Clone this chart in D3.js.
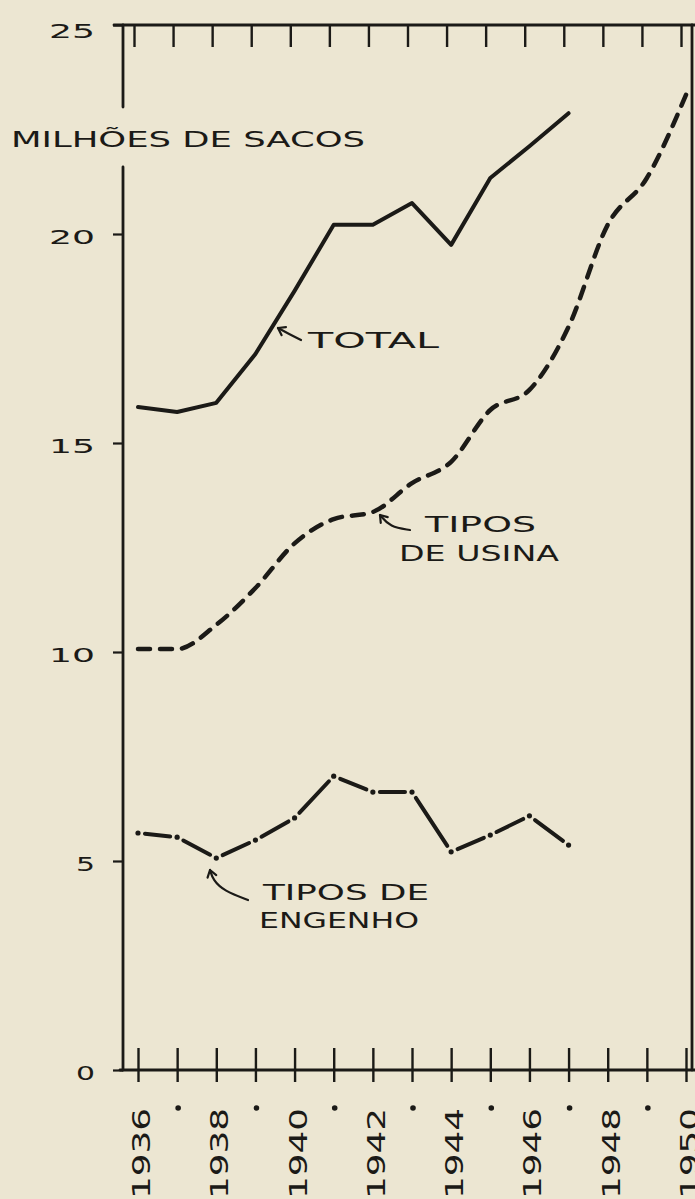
<!DOCTYPE html>
<html>
<head>
<meta charset="utf-8">
<script src="https://cdn.jsdelivr.net/npm/d3@7/dist/d3.min.js"></script>
<style>
  html, body { margin: 0; padding: 0; background: #ece6d2; }
  svg { display: block; }
</style>
</head>
<body>
<div id="chart"></div>
<script>
// values (milhões de sacos)
const years = [1936, 1937, 1938, 1939, 1940, 1941, 1942, 1943, 1944, 1945, 1946, 1947, 1948, 1949, 1950];
const totalValues = [15.86, 15.74, 15.96, 17.13, 18.64, 20.22, 20.22, 20.74, 19.74, 21.34, 22.1, 22.89];
const usinaValues = [10.07, 10.07, 10.65, 11.53, 12.6, 13.18, 13.35, 14.04, 14.55, 15.79, 16.27, 17.78, 20.22, 21.34, 23.33];
const engenhoValues = [5.67, 5.57, 5.07, 5.5, 6.03, 7.03, 6.65, 6.65, 5.22, 5.62, 6.08, 5.38];
const yTicks = [0, 5, 10, 15, 20, 25];
const yearLabels = ['1936', '1938', '1940', '1942', '1944', '1946', '1948', '1950'];

const W = 695, H = 1199;
const ink = '#1b1a17';
const font = "'DejaVu Sans', sans-serif";

const svg = d3.select('#chart').append('svg').attr('width', W).attr('height', H);
svg.append('rect').attr('width', W).attr('height', H).attr('fill', '#ece6d2');

const x = d3.scaleLinear().domain([1936, 1950]).range([138, 686]);
const xTop = x.copy().range([134, 681]);
const y = d3.scaleLinear().domain([0, 25]).range([1070, 25]);

// frame lines
const frame = svg.append('g').attr('stroke', ink).attr('stroke-width', 2.8).attr('stroke-linecap', 'round');
frame.append('line').attr('x1', 114).attr('x2', W).attr('y1', y(25)).attr('y2', y(25));
frame.append('line').attr('x1', 120).attr('x2', W).attr('y1', y(0)).attr('y2', y(0));
frame.append('line').attr('x1', 123).attr('x2', 123).attr('y1', y(25)).attr('y2', 107);
frame.append('line').attr('x1', 123).attr('x2', 123).attr('y1', 167).attr('y2', y(0));
frame.append('line').attr('x1', 692).attr('x2', 692).attr('y1', y(25)).attr('y2', y(0));

// y axis ticks + labels
const yAxis = svg.append('g')
  .attr('transform', 'translate(123,0)')
  .call(d3.axisLeft(y).tickValues(yTicks).tickSize(10).tickPadding(18));
yAxis.select('.domain').remove();
yAxis.selectAll('.tick line').attr('stroke', ink).attr('stroke-width', 2.2);
yAxis.selectAll('.tick text')
  .attr('fill', ink)
  .attr('font-family', font)
  .attr('font-size', 20)
  .attr('dy', (d) => (d === 25 ? '0.62em' : '0.45em'))
  .attr('textLength', (d) => (String(d).length > 1 ? 46 : 19))
  .attr('lengthAdjust', 'spacingAndGlyphs');

// top ticks
const topAxis = svg.append('g')
  .attr('transform', `translate(0,${y(25)})`)
  .call(d3.axisTop(xTop).tickValues(years).tickSize(-22).tickFormat(''));
topAxis.select('.domain').remove();
topAxis.selectAll('.tick line').attr('stroke', ink).attr('stroke-width', 2.4);

// bottom ticks (crossing the axis)
const bottomAxis = svg.append('g')
  .attr('transform', `translate(0,${y(0)})`)
  .call(d3.axisBottom(x).tickValues(years).tickFormat(''));
bottomAxis.select('.domain').remove();
bottomAxis.selectAll('.tick line')
  .attr('stroke', ink).attr('stroke-width', 2.4)
  .attr('y1', -22).attr('y2', 12);

// year labels, written upward
svg.append('g').selectAll('text')
  .data(yearLabels)
  .join('text')
  .attr('transform', (d) => `translate(${x(+d) + 12},${H}) rotate(-90)`)
  .attr('fill', ink)
  .attr('font-family', font)
  .attr('font-size', 24)
  .attr('textLength', 91)
  .attr('lengthAdjust', 'spacingAndGlyphs')
  .text((d) => d);

// dots for the odd years
svg.append('g').selectAll('circle')
  .data(years.filter((d) => d % 2 === 1))
  .join('circle')
  .attr('cx', (d) => x(d) + 1)
  .attr('cy', 1108)
  .attr('r', 2.8)
  .attr('fill', ink);

// TOTAL - solid
const line = d3.line().x((d, i) => x(years[i])).y((d) => y(d));
svg.append('path')
  .attr('d', line(totalValues))
  .attr('fill', 'none')
  .attr('stroke', ink)
  .attr('stroke-width', 4)
  .attr('stroke-linejoin', 'round')
  .attr('stroke-linecap', 'round');

// TIPOS DE USINA - dashed
svg.append('path')
  .attr('d', line.curve(d3.curveMonotoneX)(usinaValues))
  .attr('fill', 'none')
  .attr('stroke', ink)
  .attr('stroke-width', 4.5)
  .attr('stroke-dasharray', '12,10')
  .attr('stroke-linecap', 'round');

// TIPOS DE ENGENHO - dash and dot at every year
const engPts = engenhoValues.map((v, i) => [x(years[i]), y(v)]);
const gap = 7;
svg.append('g').selectAll('line')
  .data(d3.pairs(engPts))
  .join('line')
  .each(function ([a, b]) {
    const dx = b[0] - a[0], dy = b[1] - a[1];
    const len = Math.hypot(dx, dy);
    const ux = dx / len, uy = dy / len;
    d3.select(this)
      .attr('x1', a[0] + ux * gap).attr('y1', a[1] + uy * gap)
      .attr('x2', b[0] - ux * gap).attr('y2', b[1] - uy * gap);
  })
  .attr('stroke', ink)
  .attr('stroke-width', 4)
  .attr('stroke-linecap', 'round');
svg.append('g').selectAll('circle')
  .data(engPts)
  .join('circle')
  .attr('cx', (d) => d[0])
  .attr('cy', (d) => d[1])
  .attr('r', 2.6)
  .attr('fill', ink);

// lettering
const labels = [
  { text: 'MILHÕES DE SACOS', x: 11, y: 147, len: 354 },
  { text: 'TOTAL', x: 308, y: 348, len: 131 },
  { text: 'TIPOS', x: 425, y: 532, len: 111 },
  { text: 'DE USINA', x: 399, y: 561, len: 160 },
  { text: 'TIPOS DE', x: 263, y: 900, len: 166 },
  { text: 'ENGENHO', x: 259, y: 928, len: 160 },
];
svg.append('g').selectAll('text')
  .data(labels)
  .join('text')
  .attr('x', (d) => d.x)
  .attr('y', (d) => d.y)
  .attr('fill', ink)
  .attr('font-family', font)
  .attr('font-size', 22)
  .attr('textLength', (d) => d.len)
  .attr('lengthAdjust', 'spacingAndGlyphs')
  .text((d) => d.text);

// arrows
const arrows = [
  [[301, 340], [289, 334], [278, 328]],
  [[410, 530], [390, 527], [380, 515]],
  [[248, 900], [224, 891], [213, 880], [210, 870]],
];
const arrowLine = d3.line().curve(d3.curveBasis);
const arrowG = svg.append('g')
  .attr('fill', 'none')
  .attr('stroke', ink)
  .attr('stroke-width', 2.2)
  .attr('stroke-linecap', 'round')
  .attr('stroke-linejoin', 'round');
arrows.forEach((pts) => {
  arrowG.append('path').attr('d', arrowLine(pts));
  const tip = pts[pts.length - 1];
  const prev = pts[pts.length - 2];
  const ang = Math.atan2(tip[1] - prev[1], tip[0] - prev[0]);
  const head = [-0.6, 0.6].map((o) => [
    tip[0] - 8 * Math.cos(ang + o),
    tip[1] - 8 * Math.sin(ang + o),
  ]);
  arrowG.append('path').attr('d', `M${head[0]}L${tip}L${head[1]}`);
});
</script>
</body>
</html>
